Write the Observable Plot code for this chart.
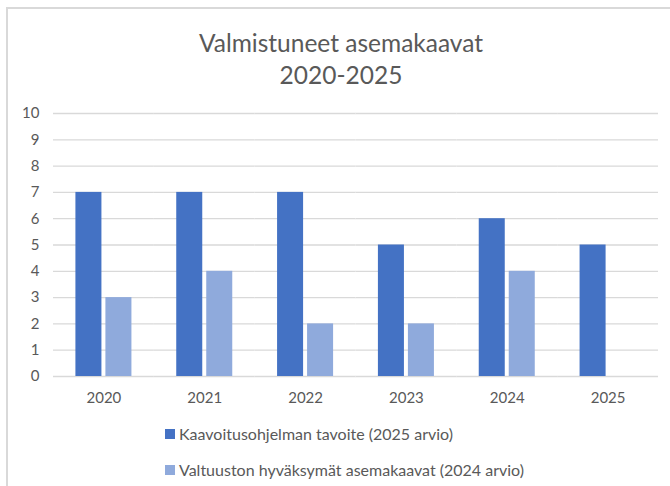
<!DOCTYPE html>
<html>
<head>
<meta charset="utf-8">
<script src="https://cdn.jsdelivr.net/npm/d3@7"></script>
<script src="https://cdn.jsdelivr.net/npm/@observablehq/plot@0.6"></script>
<style>
  html, body { margin: 0; padding: 0; background: #fff; }
  #wrap { position: relative; width: 670px; height: 486px; overflow: hidden; font-family: Lato, "Open Sans", sans-serif; color: #595959; }
  #frame { position: absolute; left: 6px; top: 7px; width: 700px; height: 520px; border-left: 2px solid #d9d9d9; border-top: 2px solid #d9d9d9; }
  #title { position: absolute; left: 0; top: 27px; width: 682px; text-align: center; font-size: 24.5px; line-height: 32px; color: #595959; }
  #chart { position: absolute; left: 0; top: 100px; }
  #legend { position: absolute; left: 165px; top: 424px; font-size: 16px; line-height: 20px; }
  .item { display: flex; align-items: center; height: 20px; margin-bottom: 16px; white-space: nowrap; }
  .sw { width: 10px; height: 10px; margin-right: 4px; flex: none; }
</style>
</head>
<body>
<div id="wrap">
  <div id="frame"></div>
  <div id="title"></div>
  <div id="chart"></div>
  <div id="legend"></div>
</div>
<script>
const titleLines = ["Valmistuneet asemakaavat", "2020-2025"];
const years = ["2020", "2021", "2022", "2023", "2024", "2025"];
const seriesNames = ["Kaavoitusohjelman tavoite (2025 arvio)", "Valtuuston hyväksymät asemakaavat (2024 arvio)"];
const tavoite = [7, 7, 7, 5, 6, 5];
const hyvaksytyt = [3, 4, 2, 2, 4, null];
const yTicks = [0, 1, 2, 3, 4, 5, 6, 7, 8, 9, 10];
const colors = ["#4472C4", "#8FAADC"];

const data = [];
years.forEach((y, i) => {
  if (tavoite[i] != null) data.push({year: y, series: seriesNames[0], value: tavoite[i]});
  if (hyvaksytyt[i] != null) data.push({year: y, series: seriesNames[1], value: hyvaksytyt[i]});
});

document.getElementById("title").innerHTML = titleLines.map(t => `<div>${t}</div>`).join("");

const chart = Plot.plot({
  width: 670,
  height: 311,
  marginTop: 13,
  marginBottom: 35,
  marginLeft: 53,
  marginRight: 12,
  style: {fontFamily: "Lato, 'Open Sans', sans-serif", fontSize: "15px", color: "#595959", background: "transparent", overflow: "visible"},
  fx: {domain: years, padding: 0, round: false, label: null},
  x: {domain: seriesNames, paddingInner: 0.133, paddingOuter: 0.747, round: false, axis: null},
  y: {domain: [0, 10], label: null},
  color: {domain: seriesNames, range: colors},
  marks: [
    Plot.gridY(yTicks, {stroke: "#d9d9d9", strokeOpacity: 1, strokeWidth: 1.3}),
    Plot.barY(data, {fx: "year", x: "series", y: "value", fill: "series", insetLeft: 0, insetRight: 0}),
    Plot.axisY(yTicks, {tickSize: 0, tickPadding: 14, label: null, fill: "#595959"}),
    Plot.axisFx({anchor: "bottom", tickSize: 0, tickPadding: 16, label: null, fill: "#595959"})
  ]
});
document.getElementById("chart").appendChild(chart);

const legend = document.getElementById("legend");
seriesNames.forEach((name, i) => {
  const row = document.createElement("div");
  row.className = "item";
  row.innerHTML = `<span class="sw" style="background:${colors[i]}"></span><span>${name}</span>`;
  legend.appendChild(row);
});
</script>
</body>
</html>
